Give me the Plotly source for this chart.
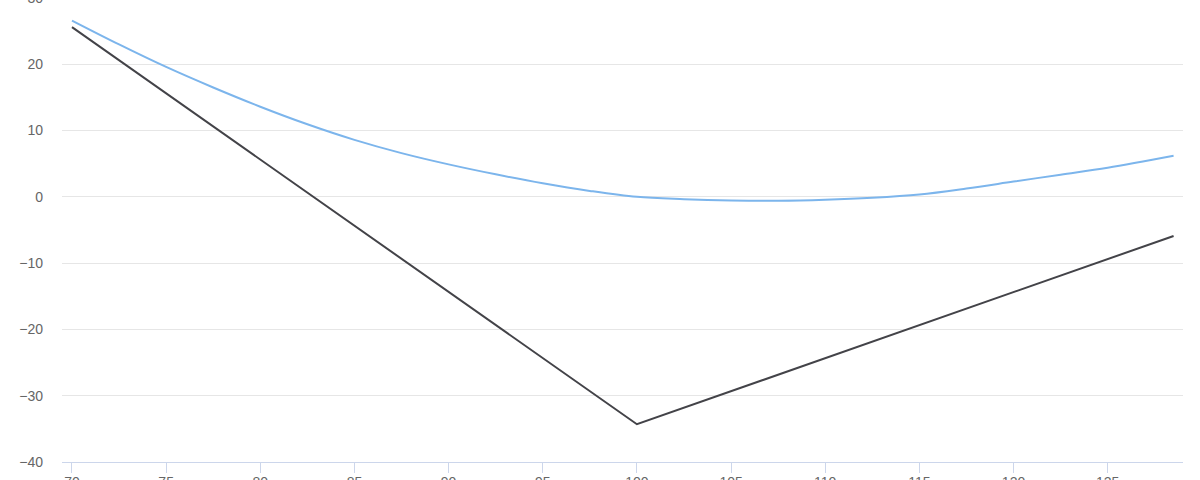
import plotly.graph_objects as go

# Data
blue_x = [70, 72.5, 75, 77.5, 80, 82.5, 85, 87.5, 90, 92.5, 95, 97.5, 100,
          102.5, 105, 107.5, 110, 112.5, 115, 117.5, 120, 122.5, 125, 128.5]
blue_y = [26.6, 23.0, 19.6, 16.5, 13.6, 10.95, 8.6, 6.6, 4.9, 3.4, 2.05, 0.9, 0.0,
          -0.35, -0.55, -0.6, -0.45, -0.15, 0.35, 1.25, 2.3, 3.35, 4.4, 6.2]

black_x = [70, 100, 128.5]
black_y = [25.6, -34.3, -5.9]

x_ticks = [70, 75, 80, 85, 90, 95, 100, 105, 110, 115, 120, 125]
y_ticks = [-40, -30, -20, -10, 0, 10, 20, 30]

FONT = "Liberation Sans, Arial, sans-serif"

fig = go.Figure()
fig.add_trace(go.Scatter(x=blue_x, y=blue_y, mode="lines",
                         line=dict(color="#7cb5ec", width=2, shape="spline", smoothing=1.0),
                         showlegend=False))
fig.add_trace(go.Scatter(x=black_x, y=black_y, mode="lines",
                         line=dict(color="#434348", width=2),
                         showlegend=False))

fig.update_layout(
    width=1200, height=482,
    margin=dict(l=62, r=17, t=0, b=18, autoexpand=False),
    paper_bgcolor="white", plot_bgcolor="white",
    font=dict(family=FONT, size=14, color="#666666"),
    xaxis=dict(range=[69.47, 129.0], tickvals=x_ticks, showgrid=False,
               zeroline=False, showline=True, linecolor="#ccd6eb", linewidth=1,
               ticks="outside", ticklen=10, tickcolor="#ccd6eb", tickwidth=1,
               automargin=False, ticklabelstandoff=-3, ticklabeloverflow="allow",
               tickfont=dict(family=FONT, size=14, color="#666666")),
    yaxis=dict(range=[-40, 30], tickvals=y_ticks, showgrid=True,
               gridcolor="#e6e6e6", gridwidth=1, zeroline=False, showline=False,
               ticks="", ticklabelstandoff=18, automargin=False,
               ticklabeloverflow="allow",
               tickfont=dict(family=FONT, size=14, color="#666666")),
)

fig.write_html("out.html",
               config={"displayModeBar": False},
               post_script="document.body.style.margin='0';"
                           "document.body.style.marginTop='-2px';"
                           "document.body.style.overflow='hidden';")
